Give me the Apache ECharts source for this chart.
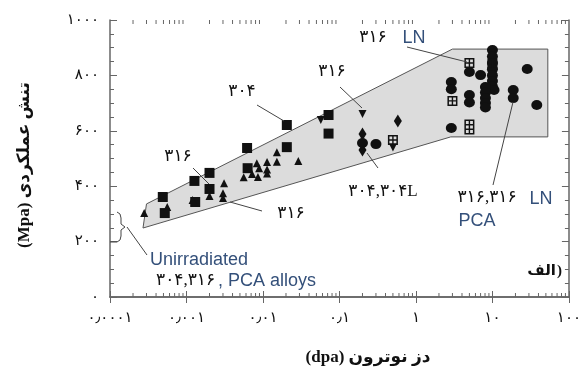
<!DOCTYPE html>
<html>
<head>
<meta charset="utf-8">
<script src="https://cdn.jsdelivr.net/npm/echarts@6/dist/echarts.min.js"></script>
<style>
html, body { margin: 0; padding: 0; background: #fff; }
#chart { width: 584px; height: 376px; }
</style>
</head>
<body>
<div id="chart"></div>
<script>
// tick labels (Persian digits)
const xTickLabels = ['۰٫۰۰۰۱', '۰٫۰۰۱', '۰٫۰۱', '۰٫۱', '۱', '۱۰', '۱۰۰']
const yTickLabels = ['۰', '۲۰۰', '۴۰۰', '۶۰۰', '۸۰۰', '۱۰۰۰']

// gray band around the data [dpa, MPa]
const bandOutline = [[0.00027, 249], [0.0003, 336], [3.0, 895], [53, 895], [53, 578], [2.85, 578]]

// 304 / 304L
const squares = [
  [0.00049, 361], [0.00052, 303], [0.0013, 343], [0.00127, 419], [0.002, 448], [0.002, 390],
  [0.0062, 538], [0.0063, 465], [0.0205, 621], [0.0205, 541], [0.072, 657], [0.072, 590]
]
// 316
const triangles = [
  [0.00028, 303], [0.00056, 325], [0.0012, 350], [0.002, 365], [0.0031, 411], [0.003, 375], [0.003, 357],
  [0.0056, 432], [0.0072, 444], [0.0083, 483], [0.0086, 433], [0.0089, 465], [0.0113, 487],
  [0.0113, 460], [0.0113, 446], [0.0152, 523], [0.0152, 488], [0.029, 491]
]
const downTriangles = [[0.057, 639], [0.2, 661], [0.5, 540]]
const diamonds = [[0.2, 588], [0.2, 531], [0.58, 635]]
// 316 PCA
const circles = [
  [0.2, 556], [0.3, 552], [2.9, 610], [2.9, 776], [2.9, 750], [5.0, 812], [7.0, 801],
  [10, 892], [10, 868], [10, 845], [10, 822], [10, 800], [10, 780], [10, 760], [10.5, 747],
  [8.1, 758], [8.1, 738], [8.1, 718], [8.1, 700], [8.1, 684],
  [5.0, 729], [5.0, 702], [18.7, 747], [18.7, 718], [28.5, 823], [38, 693]
]
// 316 LN
const gridSquares = [[0.5, 567], [3.0, 708], [5.0, 845], [10, 841]]
const tallGridSquares = [[5.0, 614]]

// log minor ticks 2..9 in every decade
const minorTickValues = []
for (let e = -4; e < 2; e++) {
  for (let m = 2; m < 10; m++) minorTickValues.push(m * Math.pow(10, e))
}

const gridPath = 'path://M0,0H10V10H0Z M1.5,1.5V4.3H4.3V1.5Z M5.7,1.5V4.3H8.5V1.5Z M1.5,5.7V8.5H4.3V5.7Z M5.7,5.7V8.5H8.5V5.7Z'
const tallGridPath = 'path://M0,0H10V15H0Z M1.5,1.5V4.5H4.3V1.5Z M5.7,1.5V4.5H8.5V1.5Z M1.5,6V9H4.3V6Z M5.7,6V9H8.5V6Z M1.5,10.5V13.5H4.3V10.5Z M5.7,10.5V13.5H8.5V10.5Z'

const frameColor = '#666'
const blue = '#34507a'
const faFont = "'Liberation Serif', 'DejaVu Sans', serif"
const blueFont = '18px Liberation Sans'

function scatter(data, symbol, size, rotate) {
  return {
    type: 'scatter',
    data: data,
    symbol: symbol,
    symbolSize: size,
    symbolRotate: rotate || 0,
    z: 3,
    itemStyle: { color: '#111', opacity: 1 }
  }
}

function text(t, x, y, opts) {
  return {
    type: 'text',
    x: x,
    y: y,
    rotation: (opts && opts.rotation) || 0,
    z: 100,
    style: Object.assign({
      text: t,
      fill: '#111',
      font: '17px ' + faFont,
      textAlign: 'center',
      textVerticalAlign: 'middle'
    }, opts && opts.style)
  }
}

function leader(a, b) {
  return {
    type: 'line',
    z: 90,
    shape: { x1: a[0], y1: a[1], x2: b[0], y2: b[1] },
    style: { stroke: '#444', lineWidth: 1 }
  }
}

const axisLine = { show: true, lineStyle: { color: frameColor, width: 1.5 } }
const xAxisBase = {
  type: 'log',
  logBase: 10,
  min: 0.0001,
  max: 100,
  axisLine: axisLine,
  axisTick: { inside: true, length: 6, lineStyle: { color: frameColor } },
  splitLine: { show: false }
}
const yAxisBase = {
  type: 'value',
  min: 0,
  max: 1000,
  interval: 200,
  axisLine: axisLine,
  axisTick: { inside: true, length: 7, lineStyle: { color: frameColor } },
  minorTick: { show: true, splitNumber: 4, length: 4, lineStyle: { color: frameColor } },
  splitLine: { show: false }
}

const myChart = echarts.init(document.getElementById('chart'))
const option = {
  animation: false,
  grid: { left: 110, top: 20, right: 12, bottom: 79 },
  xAxis: [
    Object.assign({}, xAxisBase, {
      position: 'bottom',
      axisLabel: {
        margin: 14,
        color: '#111',
        fontSize: 15,
        fontFamily: 'DejaVu Sans',
        formatter: function(v) {
          return xTickLabels[Math.round(Math.log10(v)) + 4]
        }
      }
    }),
    Object.assign({}, xAxisBase, { position: 'top', axisLabel: { show: false } })
  ],
  yAxis: [
    Object.assign({}, yAxisBase, {
      position: 'left',
      axisLabel: {
        margin: 11,
        color: '#111',
        fontSize: 15,
        fontFamily: 'DejaVu Sans',
        formatter: function(v) {
          return yTickLabels[Math.round(v / 200)]
        }
      }
    }),
    Object.assign({}, yAxisBase, { position: 'right', axisLabel: { show: false } })
  ],
  series: [
    {
      type: 'custom',
      silent: true,
      z: 1,
      data: [bandOutline[0]],
      renderItem: function(params, api) {
        return {
          type: 'polygon',
          shape: { points: bandOutline.map(p => api.coord(p)) },
          style: { fill: '#dcdcdc', stroke: '#555', lineWidth: 1 }
        }
      }
    },
    {
      type: 'custom',
      silent: true,
      z: 2,
      data: minorTickValues.map(v => [v, 0]),
      renderItem: function(params, api) {
        const b = api.coord([api.value(0), 0])
        const t = api.coord([api.value(0), 1000])
        return {
          type: 'group',
          children: [
            { type: 'line', shape: { x1: b[0], y1: b[1], x2: b[0], y2: b[1] - 4 }, style: { stroke: frameColor, lineWidth: 1 } },
            { type: 'line', shape: { x1: t[0], y1: t[1], x2: t[0], y2: t[1] + 4 }, style: { stroke: frameColor, lineWidth: 1 } }
          ]
        }
      }
    },
    scatter(squares, 'rect', 10),
    scatter(triangles, 'triangle', 8),
    scatter(downTriangles, 'triangle', 8, 180),
    scatter(diamonds, 'diamond', [8, 13]),
    scatter(circles, 'circle', [11, 10]),
    scatter(gridSquares, gridPath, 10),
    scatter(tallGridSquares, tallGridPath, [10, 15])
  ],
  graphic: [
    leader([257, 105], [284, 121]),
    leader([193, 168], [209, 184]),
    leader([230, 202], [262, 211]),
    leader([340, 87], [362, 108]),
    leader([407, 47], [467, 62]),
    leader([367, 153], [378, 168]),
    leader([513, 102], [493, 185]),
    leader([127, 227], [147, 255]),
    {
      type: 'polyline',
      z: 90,
      shape: {
        points: [[117, 212], [120, 214], [121, 218], [121, 224], [125, 227], [121, 230], [121, 236], [120, 240], [117, 242], [110, 242]]
      },
      style: { stroke: '#444', lineWidth: 1, fill: null }
    },
    text('۳۰۴', 242, 92),
    text('۳۱۶', 178, 157),
    text('۳۱۶', 291, 214),
    text('۳۱۶', 332, 72),
    text('۳۱۶', 373, 38),
    text('LN', 414, 38, { style: { fill: blue, font: blueFont } }),
    text('۳۰۴,۳۰۴L', 383, 192),
    text('۳۱۶,۳۱۶', 487, 198),
    text('LN', 541, 199, { style: { fill: blue, font: blueFont } }),
    text('PCA', 477, 221, { style: { fill: blue, font: blueFont } }),
    text('Unirradiated', 150, 260, { style: { fill: blue, font: blueFont, textAlign: 'left' } }),
    text('۳۰۴,۳۱۶', 156, 281, { style: { textAlign: 'left' } }),
    text(', PCA alloys', 218, 281, { style: { fill: blue, font: blueFont, textAlign: 'left' } }),
    // panel label "a)": word and bracket drawn apart so the bracket stays on the right
    text('الف', 556, 271, { style: { font: 'bold 15px ' + faFont, textAlign: 'right' } }),
    text(')', 557, 271, { style: { font: 'bold 15px ' + faFont, textAlign: 'left' } }),
    text('(Mpa) تنش عملکردی', 25, 165, { rotation: Math.PI / 2, style: { font: 'bold 17px ' + faFont } }),
    text('(dpa) دز نوترون', 368, 358, { style: { font: 'bold 17px ' + faFont } })
  ]
}
myChart.setOption(option)
</script>
</body>
</html>
